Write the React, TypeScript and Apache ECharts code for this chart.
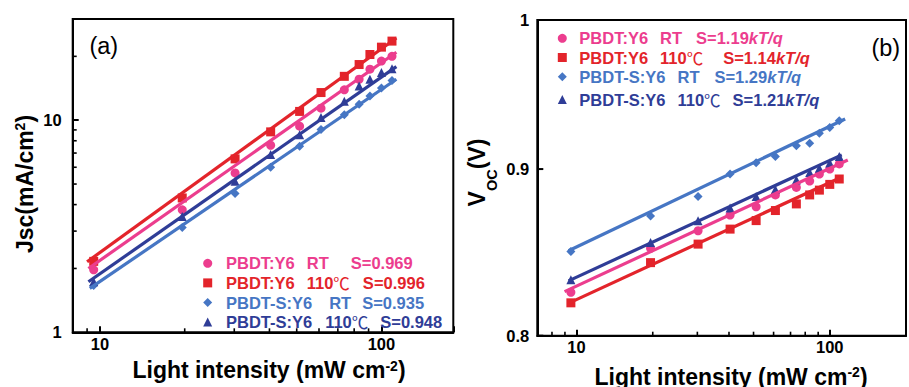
import React, { useEffect, useRef } from "react";
import * as echarts from "echarts";

const FONT = "'Liberation Sans', Arial, Helvetica, sans-serif";
const COLORS = ["#EC3D8E", "#E3242B", "#4676C4", "#2F3D97"];
const SYMBOLS = ["circle", "rect", "diamond", "triangle"];
const SIZES = [9, 9, 9, 9];

// Light intensity (mW cm-2)
const INTENSITY = [9.5, 19.6, 30.2, 40.4, 51.2, 61, 73.8, 83.3, 91, 100, 109];

// (a) Jsc (mA/cm2)
const JSC_PBDT_RT = [1.97, 3.78, 5.64, 7.62, 9.37, 11.4, 13.9, 15.6, 17.4, 19.0, 20.0];
const JSC_PBDT_110 = [2.16, 4.3, 6.57, 8.81, 11.0, 13.5, 16.1, 18.3, 20.4, 22.1, 23.6];
const JSC_PBDTS_RT = [1.66, 3.12, 4.51, 6.0, 7.54, 9.04, 10.6, 11.9, 13.0, 14.2, 15.4];
const JSC_PBDTS_110 = [1.73, 3.52, 5.15, 6.89, 8.55, 10.3, 12.3, 14.5, 15.6, 16.8, 17.5];
// fit line end points [intensity, Jsc]
const JSC_FIT_PBDT_RT = [[9.1, 2.0], [113, 20.9]];
const JSC_FIT_PBDT_110 = [[9.0, 2.15], [113, 24.4]];
const JSC_FIT_PBDTS_RT = [[9.2, 1.61], [113, 15.6]];
const JSC_FIT_PBDTS_110 = [[9.1, 1.73], [113, 17.9]];

// (b) Voc (V)
const VOC_PBDT_RT = [0.8249, 0.851, 0.8616, 0.8712, 0.8763, 0.8837, 0.8884, 0.8924, 0.8968, 0.9, 0.9033];
const VOC_PBDT_110 = [0.8188, 0.8424, 0.8535, 0.8626, 0.8678, 0.874, 0.8781, 0.8837, 0.8867, 0.8903, 0.8937];
const VOC_PBDTS_RT = [0.849, 0.8706, 0.8827, 0.8968, 0.9041, 0.908, 0.915, 0.9166, 0.923, 0.9268, 0.9313];
const VOC_PBDTS_110 = [0.8322, 0.8545, 0.8677, 0.8755, 0.8827, 0.8871, 0.893, 0.8978, 0.9005, 0.9038, 0.908];
const VOC_FIT_PBDT_RT = [[8.97, 0.8253], [117.8, 0.9058]];
const VOC_FIT_PBDT_110 = [[9.37, 0.8188], [110, 0.8945]];
const VOC_FIT_PBDTS_RT = [[9.3, 0.8495], [115, 0.9324]];
const VOC_FIT_PBDTS_110 = [[9.3, 0.8316], [111.5, 0.9091]];

// legend labels: [sample, condition, slope]
const JSC_LABELS = [
  ["PBDT:Y6", "RT", "S=0.969"],
  ["PBDT:Y6", "110℃", "S=0.996"],
  ["PBDT-S:Y6", "RT", "S=0.935"],
  ["PBDT-S:Y6", "110℃", "S=0.948"],
];
const VOC_LABELS = [
  ["PBDT:Y6", "RT", "S=1.19", "kT/q"],
  ["PBDT:Y6", "110℃", "S=1.14", "kT/q"],
  ["PBDT-S:Y6", "RT", "S=1.29", "kT/q"],
  ["PBDT-S:Y6", "110℃", "S=1.21", "kT/q"],
];
// gaps (in px) between label parts, as seen in the reference
const JSC_GAPS = [[12, 22], [12, 13], [17, 11], [13, 12]];
const VOC_GAPS = [[12, 14], [12, 20], [12, 15], [12, 12]];

// ticks
const JSC_X_LABELS = [10, 100];
const JSC_Y_LABELS = [1, 10];
const JSC_X_MINOR = [9, 20, 30, 40, 50, 60, 70, 80, 90];
const JSC_Y_MINOR = [2, 3, 4, 5, 6, 7, 8, 9, 20];
const VOC_X_LABELS = [10, 100];
const VOC_X_MINOR = [8, 9, 20, 30, 40, 50, 60, 70, 80, 90];
const VOC_Y_TICKS = [0.8, 0.9, 1.0];
const VOC_Y_TICK_LABELS = ["0.8", "0.9", "1"];

const JSC_SETS = [JSC_PBDT_RT, JSC_PBDT_110, JSC_PBDTS_RT, JSC_PBDTS_110];
const JSC_FITS = [JSC_FIT_PBDT_RT, JSC_FIT_PBDT_110, JSC_FIT_PBDTS_RT, JSC_FIT_PBDTS_110];
const VOC_SETS = [VOC_PBDT_RT, VOC_PBDT_110, VOC_PBDTS_RT, VOC_PBDTS_110];
const VOC_FITS = [VOC_FIT_PBDT_RT, VOC_FIT_PBDT_110, VOC_FIT_PBDTS_RT, VOC_FIT_PBDTS_110];

const JSC_NAMES = JSC_LABELS.map((l) => l.join(" "));
const VOC_NAMES = VOC_LABELS.map((l) => l[0] + " " + l[1] + " " + l[2] + l[3]);

const labelFormatter = (allowed: number[]) => (v: number) => {
  const hit = allowed.find((a) => Math.abs(a - v) / a < 1e-6);
  return hit !== undefined ? String(hit) : "";
};

const axisCommon = {
  axisLine: { show: true, onZero: false, lineStyle: { color: "#000", width: 2 } },
  axisTick: { show: true, inside: true, length: 6, lineStyle: { color: "#000", width: 2 } },
  splitLine: { show: false },
  minorTick: { show: false },
};

const labelStyle = { color: "#000", fontSize: 16.5, fontWeight: "bold", fontFamily: FONT };

function xMinorSeries(idx: number, yRef: number, vals: number[]) {
  return {
    type: "custom",
    xAxisIndex: idx,
    yAxisIndex: idx,
    silent: true,
    z: 6,
    data: vals.map((v) => [v, yRef]),
    renderItem: (params: any, api: any) => {
      const cs = params.coordSys;
      const x = api.coord([api.value(0), api.value(1)])[0];
      const yb = cs.y + cs.height;
      return {
        type: "line",
        shape: { x1: x, y1: yb, x2: x, y2: yb - 4 },
        style: { stroke: "#000", lineWidth: 1.6 },
      };
    },
  };
}

function yMinorSeries(idx: number, xRef: number, vals: number[]) {
  return {
    type: "custom",
    xAxisIndex: idx,
    yAxisIndex: idx,
    silent: true,
    z: 6,
    data: vals.map((v) => [xRef, v]),
    renderItem: (params: any, api: any) => {
      const cs = params.coordSys;
      const y = api.coord([api.value(0), api.value(1)])[1];
      return {
        type: "line",
        shape: { x1: cs.x, y1: y, x2: cs.x + 4, y2: y },
        style: { stroke: "#000", lineWidth: 1.6 },
      };
    },
  };
}

function vocYAxisSeries() {
  return {
    type: "custom",
    xAxisIndex: 1,
    yAxisIndex: 1,
    silent: true,
    z: 6,
    data: VOC_Y_TICKS.map((v, i) => [7, v, i]),
    renderItem: (params: any, api: any) => {
      const cs = params.coordSys;
      const y = api.coord([api.value(0), api.value(1)])[1];
      const i = api.value(2);
      return {
        type: "group",
        children: [
          {
            type: "line",
            shape: { x1: cs.x, y1: y, x2: cs.x + 6, y2: y },
            style: { stroke: "#000", lineWidth: 2 },
          },
          {
            type: "text",
            x: cs.x - 8,
            y: y,
            style: {
              text: VOC_Y_TICK_LABELS[i],
              fill: "#000",
              fontSize: 16.5,
              fontWeight: "bold",
              fontFamily: FONT,
              align: "right",
              verticalAlign: "middle",
            },
          },
        ],
      };
    },
  };
}

const titleRich = {
  m: { fontSize: 23, fontWeight: "bold", fontFamily: FONT, lineHeight: 23, verticalAlign: "top", fill: "#000" },
  s: { fontSize: 14, fontWeight: "bold", fontFamily: FONT, lineHeight: 16, verticalAlign: "top", fill: "#000" },
  b: { fontSize: 14.5, fontWeight: "bold", fontFamily: FONT, lineHeight: 34, verticalAlign: "bottom", fill: "#000" },
};

const LEG_FS = 16.5;
const legendRich: any = {
  t: { fontSize: LEG_FS, fontWeight: "bold", fontFamily: FONT, lineHeight: 17 },
  c: { fontSize: LEG_FS, fontWeight: "normal", fontFamily: "'Noto Sans CJK SC', " + FONT, lineHeight: 17 },
  i: { fontSize: LEG_FS, fontWeight: "bold", fontStyle: "italic", fontFamily: FONT, lineHeight: 17 },
};
[1, 2, 3, 4, 5, 6, 7, 8, 9, 10, 11, 12, 13, 14, 15, 16, 17, 18, 19, 20, 21, 22, 23, 24].forEach((w) => {
  legendRich["g" + w] = { width: w, fontSize: LEG_FS, fontFamily: FONT, lineHeight: 17 };
});

function legendLabel(parts: string[], gaps: number[]) {
  const cond = parts[1].replace("℃", "}{c|℃}{t|");
  let s = `{t|${parts[0]}}{g${gaps[0]}| }{t|${cond}}{g${gaps[1]}| }{t|${parts[2]}}`;
  if (parts[3]) s += `{i|${parts[3]}}`;
  return s.replace(/\{t\|\}/g, "");
}

export default function App() {
  const ref = useRef<HTMLDivElement>(null);
  useEffect(() => {
    document.body.style.margin = "0";
    if (!ref.current) return;
    const chart = echarts.init(ref.current, undefined, { renderer: "svg" });
    const series: any[] = [];
    JSC_SETS.forEach((vals, i) => {
      series.push({
        type: "scatter", name: JSC_NAMES[i], xAxisIndex: 0, yAxisIndex: 0,
        data: INTENSITY.map((x, j) => [x, vals[j]]),
        symbol: SYMBOLS[i], symbolSize: SIZES[i],
        itemStyle: { color: COLORS[i], opacity: 1 }, z: 2, silent: true,
      });
      series.push({
        type: "line", name: "fitA" + i, xAxisIndex: 0, yAxisIndex: 0,
        data: JSC_FITS[i], symbol: "none", showSymbol: false,
        lineStyle: { color: COLORS[i], width: 3.2 }, itemStyle: { color: COLORS[i] }, z: 3, silent: true,
      });
    });
    VOC_SETS.forEach((vals, i) => {
      series.push({
        type: "scatter", name: VOC_NAMES[i], xAxisIndex: 1, yAxisIndex: 1,
        data: INTENSITY.map((x, j) => [x, vals[j]]),
        symbol: SYMBOLS[i], symbolSize: SIZES[i],
        itemStyle: { color: COLORS[i], opacity: 1 }, z: 2, silent: true,
      });
      series.push({
        type: "line", name: "fitB" + i, xAxisIndex: 1, yAxisIndex: 1,
        data: VOC_FITS[i], symbol: "none", showSymbol: false,
        lineStyle: { color: COLORS[i], width: 3.2 }, itemStyle: { color: COLORS[i] }, z: 3, silent: true,
      });
    });
    series.push(xMinorSeries(0, 1, JSC_X_MINOR));
    series.push(yMinorSeries(0, 8, JSC_Y_MINOR));
    series.push(xMinorSeries(1, 0.8, VOC_X_MINOR));
    series.push(vocYAxisSeries());

    const legendItems = (names: string[], idx: number[]) =>
      idx.map((i) => ({ name: names[i], icon: SYMBOLS[i], textStyle: { color: COLORS[i] } }));
    const jscFmt = (n: string) => {
      const i = JSC_NAMES.indexOf(n);
      return legendLabel(JSC_LABELS[i], JSC_GAPS[i]);
    };
    const vocFmt = (n: string) => {
      const i = VOC_NAMES.indexOf(n);
      return legendLabel(VOC_LABELS[i], VOC_GAPS[i]);
    };
    const legendBase = {
      orient: "vertical", itemWidth: 9, itemHeight: 9, selectedMode: false,
    };

    const option: any = {
      animation: false,
      backgroundColor: "#fff",
      grid: [
        { left: 72.7, top: 19, width: 380.6, height: 313.3, show: true, borderColor: "#000", borderWidth: 2, containLabel: false },
        { left: 537.3, top: 20, width: 379.3, height: 315.7, show: true, borderColor: "#000", borderWidth: 2, containLabel: false },
      ],
      xAxis: [
        {
          type: "log", logBase: 10, gridIndex: 0, min: 8, max: 180, ...axisCommon,
          axisLabel: { ...labelStyle, margin: 3, formatter: labelFormatter(JSC_X_LABELS) },
        },
        {
          type: "log", logBase: 10, gridIndex: 1, min: 7, max: 200, ...axisCommon,
          axisLabel: { ...labelStyle, margin: 3, formatter: labelFormatter(VOC_X_LABELS) },
        },
      ],
      yAxis: [
        {
          type: "log", logBase: 10, gridIndex: 0, min: 1, max: 30, ...axisCommon,
          axisLabel: { ...labelStyle, margin: 11, formatter: labelFormatter(JSC_Y_LABELS) },
        },
        {
          type: "log", logBase: 10, gridIndex: 1, min: 0.8, max: 1, ...axisCommon,
          axisTick: { show: false },
          axisLabel: { show: false },
        },
      ],
      legend: [
        {
          ...legendBase, data: legendItems(JSC_NAMES, [0, 1, 2, 3]),
          left: 198.2, top: 249.8, itemGap: 2.6,
          textStyle: { fontSize: LEG_FS, fontWeight: "bold", fontFamily: FONT, lineHeight: 17, padding: [0, 0, 0, 8.8], rich: legendRich },
          formatter: jscFmt,
        },
        {
          ...legendBase, data: legendItems(VOC_NAMES, [0, 1, 2]),
          left: 552.8, top: 24.8, itemGap: 2.2,
          textStyle: { fontSize: LEG_FS, fontWeight: "bold", fontFamily: FONT, lineHeight: 17, padding: [0, 0, 0, 7.5], rich: legendRich },
          formatter: vocFmt,
        },
        {
          ...legendBase, data: legendItems(VOC_NAMES, [3]),
          left: 552.8, top: 86.1, itemGap: 2.2,
          textStyle: { fontSize: LEG_FS, fontWeight: "bold", fontFamily: FONT, lineHeight: 17, padding: [0, 0, 0, 7.5], rich: legendRich },
          formatter: vocFmt,
        },
      ],
      graphic: [
        { type: "text", x: 103.8, y: 46.3, style: { text: "(a)", fontSize: 23.5, fontFamily: FONT, fill: "#000", align: "center", verticalAlign: "middle" } },
        { type: "text", x: 885.8, y: 48, style: { text: "(b)", fontSize: 23.5, fontFamily: FONT, fill: "#000", align: "center", verticalAlign: "middle" } },
        { type: "text", x: 269, y: 358.7, style: { text: "{m|Light intensity (mW cm}{s|-2}{m|)}", rich: titleRich, align: "center", verticalAlign: "top" } },
        { type: "text", x: 731, y: 365, style: { text: "{m|Light intensity (mW cm}{s|-2}{m|)}", rich: titleRich, align: "center", verticalAlign: "top" } },
        { type: "text", x: 13, y: 184, rotation: Math.PI / 2, style: { text: "{m|Jsc(mA/cm}{s|2}{m|)}", rich: titleRich, align: "center", verticalAlign: "top" } },
        { type: "text", x: 465.5, y: 172.5, rotation: Math.PI / 2, style: { text: "{m|V}{b|OC}{m|(V)}", rich: titleRich, align: "center", verticalAlign: "top" } },
      ],
      series,
    };
    chart.setOption(option);
    return () => chart.dispose();
  }, []);
  return <div ref={ref} style={{ width: 909, height: 387 }} />;
}
